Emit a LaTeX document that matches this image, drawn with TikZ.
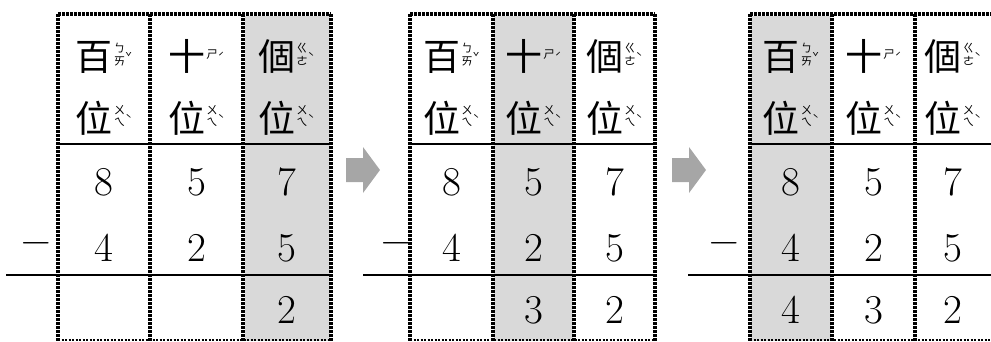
\documentclass[tikz,border=0pt]{standalone}
\usepackage{fontspec}
\newfontfamily\cjk{Noto Sans CJK TC}
\usetikzlibrary{positioning}
\definecolor{colgray}{RGB}{217,217,217}
\definecolor{arrowgray}{RGB}{166,166,166}

% zhuyin beside a character
\newcommand{\zy}[2]{\raisebox{11pt}{\cjk\fontsize{11.5}{12.5}\selectfont\begin{tabular}[c]{@{}c@{}}#1\end{tabular}}\raisebox{9pt}{\cjk\fontsize{11}{11}\selectfont #2}}
\newcommand{\hz}[3]{{\cjk\fontsize{37}{37}\selectfont #1}\kern1pt\zy{#2}{#3}}

\begin{document}
\begin{tikzpicture}[x=1pt, y=-1pt,
    dotline/.style={line width=3.2pt, dash pattern=on 2.7pt off 1.3pt},
    dotthin/.style={line width=1.8pt, dash pattern=on 2.2pt off 1.3pt},
    headline/.style={line width=1.2pt},
    sumline/.style={line width=2.8pt},
    digit/.style={font=\fontsize{41}{41}\selectfont, inner sep=0pt},
    zhu/.style={inner sep=0pt, anchor=base}]
    \useasboundingbox (0,0) rectangle (991,341);

    % Colonnes en gris
    \fill[colgray] (245,16) rectangle (330,341);
    \fill[colgray] (494,16) rectangle (573,341);
    \fill[colgray] (751,16) rectangle (831,341);

    % Trois tableaux
    \foreach \p/\xa/\xb/\xc/\xd/\ca/\cb/\cc/\mx/\lx in {
        1/58/150/243/331/104/196.5/286.5/36/6,
        2/410/493/574/655/451.5/533.5/614.5/396/363,
        3/750/832/915/995/791/873.5/953/724/688}{
        \draw[headline] (\xa,144) -- (\xd,144);
        \draw[sumline] (\lx,275) -- (\xd,275);
        \foreach \xx in {\xa,\xb,\xc,\xd}
            \draw[dotline] (\xx,14) -- (\xx,341);
        \draw[dotline] (\xa,14) -- (\xd,14);
        \draw[dotthin] (\xa,340) -- (\xd,340);

        \node[zhu] (bai\p) at (\ca,70) {\hz{百}{ㄅ\\ㄞ}{ˇ}};
        \node[zhu] (shi\p) at (\cb,70) {\hz{十}{ㄕ}{ˊ}};
        \node[zhu] (ge\p) at (\cc,70) {\hz{個}{ㄍ\\ㄜ}{ˋ}};
        \node[zhu] (weia\p) at (\ca,132) {\hz{位}{ㄨ\\ㄟ}{ˋ}};
        \node[zhu] (weib\p) at (\cb,132) {\hz{位}{ㄨ\\ㄟ}{ˋ}};
        \node[zhu] (weic\p) at (\cc,132) {\hz{位}{ㄨ\\ㄟ}{ˋ}};

        \node[digit] (hunA\p) at (\ca,182) {8};
        \node[digit] (tenA\p) at (\cb,182) {5};
        \node[digit] (oneA\p) at (\cc,182) {7};
        \node[digit] (minus\p) at (\mx,248) {−};
        \node[digit] (hunB\p) at (\ca,248) {4};
        \node[digit] (tenB\p) at (\cb,248) {2};
        \node[digit] (oneB\p) at (\cc,248) {5};
    }

    % Résultats
    \node[digit] (oneC1) at (286.5,310) {2};
    \node[digit] (tenC2) at (533.5,310) {3};
    \node[digit] (oneC2) at (614.5,310) {2};
    \node[digit] (hunC3) at (791,310) {4};
    \node[digit] (tenC3) at (873.5,310) {3};
    \node[digit] (oneC3) at (953,310) {2};

    % Flèches grises
    \foreach \ax in {346,672}
        \fill[arrowgray] (\ax,158) -- (\ax+17,158) -- (\ax+17,147) -- (\ax+34,170)
            -- (\ax+17,193) -- (\ax+17,182) -- (\ax,182) -- cycle;
\end{tikzpicture}
\end{document}
